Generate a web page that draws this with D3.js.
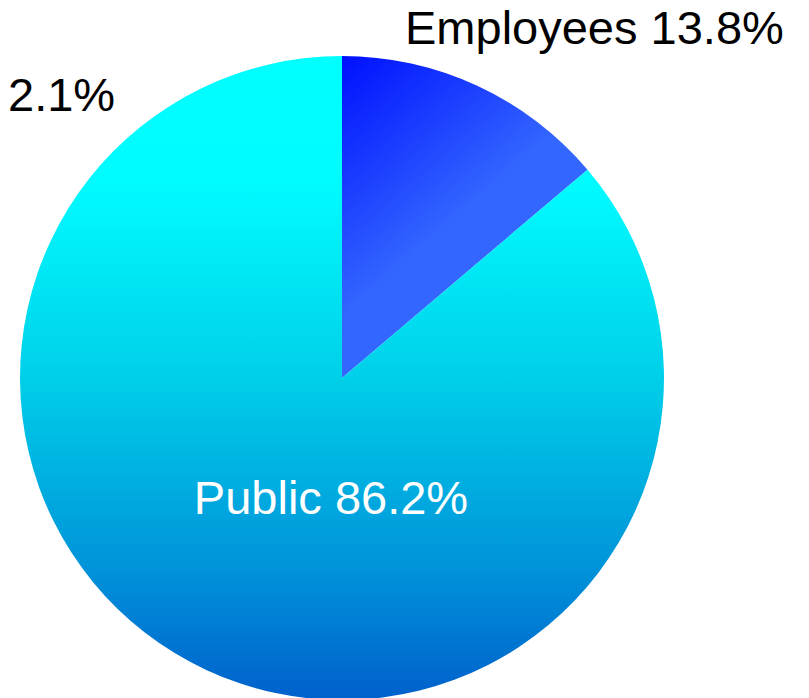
<!DOCTYPE html>
<html>
<head>
<meta charset="utf-8">
<script src="https://cdn.jsdelivr.net/npm/d3@7"></script>
<style>
  body { margin: 0; background: #fff; }
  text { font-family: "Liberation Sans", Arial, sans-serif; }
</style>
</head>
<body>
<div id="chart"></div>
<script>
// data
var categories = ["Employees", "Public"];
var values = [13.8, 86.2];
var labels = ["Employees 13.8%", "Public 86.2%"];
var extraLabel = "2.1%";

var svgWidth = 809;
var svgHeight = 698;
var cx = 342, cy = 378, radius = 322;

var svg = d3.select("#chart")
  .append("svg")
  .attr("width", svgWidth)
  .attr("height", svgHeight);

// gradients (coords relative to pie centre, since paths sit in translated group)
var defs = svg.append("defs");

var gEmp = defs.append("linearGradient")
  .attr("id", "gradEmp")
  .attr("gradientUnits", "userSpaceOnUse")
  .attr("x1", 0).attr("y1", -radius)
  .attr("x2", 130).attr("y2", -radius + 150);
gEmp.append("stop").attr("offset", "0%").attr("stop-color", "#0010ff");
gEmp.append("stop").attr("offset", "100%").attr("stop-color", "#3366ff");

var gPub = defs.append("linearGradient")
  .attr("id", "gradPub")
  .attr("gradientUnits", "userSpaceOnUse")
  .attr("x1", 0).attr("y1", -radius)
  .attr("x2", 0).attr("y2", radius);
[["0%", "#00ffff"], ["20%", "#00fbff"], ["50%", "#00cfe9"],
 ["80%", "#0092d9"], ["100%", "#0060cc"]].forEach(function (s) {
  gPub.append("stop").attr("offset", s[0]).attr("stop-color", s[1]);
});

var fills = ["url(#gradEmp)", "url(#gradPub)"];

var pie = d3.pie().sort(null).value(d => d);
var arc = d3.arc().innerRadius(0).outerRadius(radius);

var chartGroup = svg.append("g")
  .attr("transform", `translate(${cx}, ${cy})`);

chartGroup.selectAll("path")
  .data(pie(values))
  .enter()
  .append("path")
  .attr("d", arc)
  .attr("fill", (d, i) => fills[i]);

// labels
svg.append("text")
  .attr("x", 405)
  .attr("y", 44)
  .attr("font-size", 47)
  .attr("fill", "#000")
  .text(labels[0]);

svg.append("text")
  .attr("x", 331)
  .attr("y", 514)
  .attr("text-anchor", "middle")
  .attr("font-size", 47)
  .attr("fill", "#fff")
  .text(labels[1]);

svg.append("text")
  .attr("x", 8)
  .attr("y", 111)
  .attr("font-size", 47)
  .attr("fill", "#000")
  .text(extraLabel);
</script>
</body>
</html>
